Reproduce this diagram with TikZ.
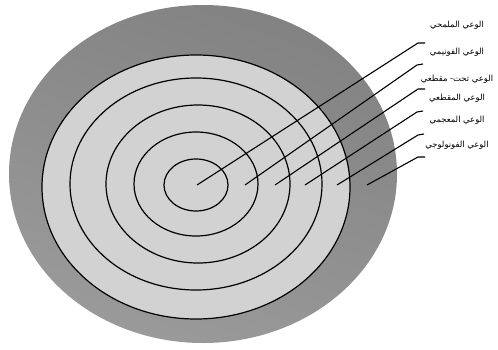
\documentclass[tikz,border=0pt]{standalone}
\usepackage{fontspec}
\newfontfamily\arabicfont[Script=Arabic]{DejaVu Sans}
\TeXXeTstate=1
\usetikzlibrary{positioning}
\definecolor{ringdarktop}{HTML}{828282}
\definecolor{ringdarkbot}{HTML}{9A9A9A}
\definecolor{ringlight}{HTML}{D2D2D2}
\tikzset{
  ring/.style     = {line width=1.2pt},
  leader/.style   = {line width=1.1pt},
  levellabel/.style = {font=\arabicfont\fontsize{8.4}{9}\selectfont, inner sep=1pt},
}

\begin{document}
\begin{tikzpicture}[x=1pt,y=-1pt]
  \useasboundingbox (0,0) rectangle (498,349);
  % outer blob and light disc
  \shade[top color=ringdarktop,bottom color=ringdarkbot,shading angle=-20]
       (203,174) ellipse [x radius=194, y radius=169];
  \fill[ringlight] (196,187) ellipse [x radius=154, y radius=132];
  % the five rings
  \draw[ring] (196,187) ellipse [x radius=154, y radius=132];
  \draw[ring] (196,184) ellipse [x radius=126, y radius=106];
  \draw[ring] (198,184) ellipse [x radius=92, y radius=79];
  \draw[ring] (196,184) ellipse [x radius=62, y radius=52];
  \draw[ring] (196,185) ellipse [x radius=32, y radius=26];

  % leader lines
  \coordinate (p1) at (197,185); \coordinate (k1) at (418,43);  \coordinate (e1) at (425,43);
  \coordinate (p2) at (245,185); \coordinate (k2) at (417,65);  \coordinate (e2) at (423,64);
  \coordinate (p3) at (275,185); \coordinate (k3) at (418,89);  \coordinate (e3) at (425,89);
  \coordinate (p4) at (305,185); \coordinate (k4) at (417,112); \coordinate (e4) at (423,111);
  \coordinate (p5) at (337,185); \coordinate (k5) at (418,135); \coordinate (e5) at (424,134);
  \coordinate (p6) at (367,185); \coordinate (k6) at (418,157); \coordinate (e6) at (425,157);
  \draw[leader] (p1) -- (k1) -- (e1);
  \draw[leader] (p2) -- (k2) -- (e2);
  \draw[leader] (p3) -- (k3) -- (e3);
  \draw[leader] (p4) -- (k4) -- (e4);
  \draw[leader] (p5) -- (k5) -- (e5);
  \draw[leader] (p6) -- (k6) -- (e6);

  \node[levellabel] (l1) at (457,25)  {\beginR الوعي الملمحي\endR};
  \node[levellabel] (l2) at (457,52)  {\beginR الوعي الفونيمي\endR};
  \node[levellabel] (l3) at (457,79)  {\beginR الوعي تحت- مقطعي\endR};
  \node[levellabel] (l4) at (457,98)  {\beginR الوعي المقطعي\endR};
  \node[levellabel] (l5) at (457,120) {\beginR الوعي المعجمي\endR};
  \node[levellabel] (l6) at (457,145) {\beginR الوعي الفونولوجي\endR};
\end{tikzpicture}
\end{document}
